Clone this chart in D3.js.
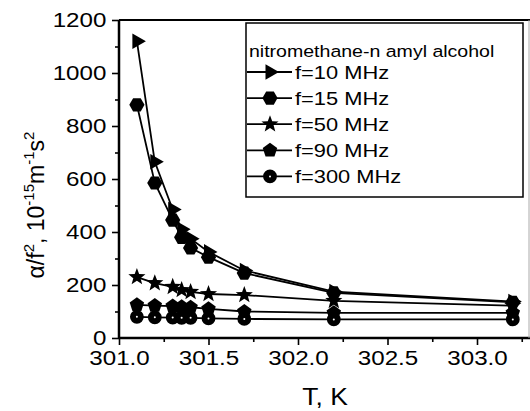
<!DOCTYPE html>
<html>
<head>
<meta charset="utf-8">
<script src="https://cdn.jsdelivr.net/npm/d3@7"></script>
<style>
  body { margin: 0; background: #fff; }
  svg { display: block; font-family: "Liberation Sans", Arial, sans-serif; }
</style>
</head>
<body>
<svg id="chart" width="530" height="411"></svg>
<script>
// temperatures, K
var temps = [301.1, 301.2, 301.3, 301.35, 301.4, 301.5, 301.7, 302.2, 303.2];
// alpha/f^2 for each frequency, 10^-15 m^-1 s^2
var f10  = [1120, 665, 485, 410, 375, 325, 255, 175, 138];
var f15  = [880, 585, 445, 380, 340, 305, 245, 170, 135];
var f50  = [230, 207, 193, 181, 174, 166, 162, 140, 122];
var f90  = [125, 122, 120, 118, 116, 110, 100, 95, 95];
var f300 = [80, 78, 77, 76, 76, 74, 72, 70, 70];
var seriesNames = ["f=10 MHz", "f=15 MHz", "f=50 MHz", "f=90 MHz", "f=300 MHz"];
var legendTitle = "nitromethane-n amyl alcohol";
var xTicks = [301.0, 301.5, 302.0, 302.5, 303.0];
var yTicks = [0, 200, 400, 600, 800, 1000, 1200];

var series = [
    { name: seriesNames[0], values: f10,  shape: "tri" }
  , { name: seriesNames[1], values: f15,  shape: "hex" }
  , { name: seriesNames[2], values: f50,  shape: "star" }
  , { name: seriesNames[3], values: f90,  shape: "pent" }
  , { name: seriesNames[4], values: f300, shape: "circ" }
];

var svg = d3.select("#chart")
  , pLeft = 119, pRight = 530.7, pTop = 20, pBottom = 338
  , x = d3.scaleLinear().domain([301, 303.3]).range([pLeft, pRight])
  , y = d3.scaleLinear().domain([0, 1200]).range([pBottom, pTop])
  , stretch = "scale(1.15,1)"
;

// polygon path helper, centred at 0,0
function poly(n, r, rot) {
    var pts = d3.range(n).map(function(i) {
        var a = rot + i * 2 * Math.PI / n;
        return [r * Math.cos(a), r * Math.sin(a)];
    });
    return "M" + pts.join("L") + "Z";
}
function star(r) {
    var pts = d3.range(10).map(function(i) {
        var rr = i % 2 ? r * 0.42 : r
          , a = -Math.PI / 2 + i * Math.PI / 5;
        return [rr * Math.cos(a), rr * Math.sin(a)];
    });
    return "M" + pts.join("L") + "Z";
}
var shapes = {
    tri:  poly(3, 9, 0)
  , hex:  poly(6, 7.6, 0)
  , star: star(9)
  , pent: poly(5, 7.6, -Math.PI / 2)
  , circ: d3.symbol(d3.symbolCircle, 150)()
};

function drawMarker(g, shape) {
    g.append("path").attr("d", shapes[shape]).attr("fill", "#000");
    if (shape === "circ")
        g.append("circle").attr("r", 1).attr("fill", "#fff");
}

// minor ticks
var xMinor = d3.axisBottom(x).tickValues(d3.range(301.25, 303.3, 0.5)).tickSize(4).tickFormat("");
var yMinor = d3.axisLeft(y).tickValues(d3.range(100, 1200, 200)).tickSize(4).tickFormat("");
svg.append("g").attr("transform", "translate(0," + pBottom + ")").call(xMinor);
svg.append("g").attr("transform", "translate(" + pLeft + ",0)").call(yMinor);

var xAxis = svg.append("g")
    .attr("transform", "translate(0," + pBottom + ")")
    .call(d3.axisBottom(x).tickValues(xTicks).tickSize(7).tickPadding(4)
        .tickFormat(d3.format(".1f")));
var yAxis = svg.append("g")
    .attr("transform", "translate(" + pLeft + ",0)")
    .call(d3.axisLeft(y).tickValues(yTicks).tickSize(7).tickPadding(4)
        .tickFormat(d3.format("d")));

svg.selectAll(".domain").remove();
svg.selectAll(".tick line").attr("stroke", "#000").attr("stroke-width", 1.6);
svg.selectAll(".tick text")
    .attr("fill", "#000")
    .style("font-size", "21px")
    .attr("transform", stretch);
xAxis.selectAll(".tick text").attr("dy", "0.78em");

// frame
svg.append("line").attr("x1", pLeft).attr("x2", 530).attr("y1", pBottom).attr("y2", pBottom)
    .attr("stroke", "#000").attr("stroke-width", 2.5);
svg.append("line").attr("x1", pLeft).attr("x2", pLeft).attr("y1", pTop).attr("y2", pBottom)
    .attr("stroke", "#000").attr("stroke-width", 2.5);
svg.append("line").attr("x1", pLeft).attr("x2", 530).attr("y1", pTop).attr("y2", pTop)
    .attr("stroke", "#000").attr("stroke-width", 2);
svg.append("line").attr("x1", 529).attr("x2", 529).attr("y1", pTop).attr("y2", pBottom)
    .attr("stroke", "#aaa").attr("stroke-width", 1);

// series
var line = d3.line()
    .x(function(d) { return x(d[0]); })
    .y(function(d) { return y(d[1]); });

series.forEach(function(s) {
    var pts = temps.map(function(t, i) { return [t, s.values[i]]; });
    svg.append("path")
        .datum(pts)
        .attr("d", line)
        .attr("fill", "none")
        .attr("stroke", "#000")
        .attr("stroke-width", 1.8);
    pts.forEach(function(p) {
        drawMarker(svg.append("g")
            .attr("transform", "translate(" + x(p[0]) + "," + y(p[1]) + ")"), s.shape);
    });
});

// legend
var legend = svg.append("g");
legend.append("rect")
    .attr("x", 246).attr("y", 23).attr("width", 277).attr("height", 174)
    .attr("fill", "#fff").attr("stroke", "#000").attr("stroke-width", 1.5);
legend.append("text")
    .attr("transform", "translate(249,57) " + stretch)
    .style("font-size", "17px")
    .text(legendTitle);
series.forEach(function(s, i) {
    var cy = 72 + i * 26.1
      , g = legend.append("g");
    g.append("line").attr("x1", 247).attr("x2", 292).attr("y1", cy).attr("y2", cy)
        .attr("stroke", "#000").attr("stroke-width", 1.8);
    drawMarker(g.append("g").attr("transform", "translate(270," + cy + ")"), s.shape);
    g.append("text")
        .attr("transform", "translate(295," + (cy + 7) + ") " + stretch)
        .style("font-size", "19px")
        .text(s.name);
});

// axis titles
svg.append("text")
    .attr("transform", "translate(325,405) " + stretch)
    .attr("text-anchor", "middle")
    .style("font-size", "23px")
    .text("T, K");

var yl = svg.append("text")
    .attr("transform", "translate(44,205) rotate(-90)")
    .attr("text-anchor", "middle")
    .style("font-size", "23px");
yl.append("tspan").text("\u03B1/f");
yl.append("tspan").attr("dy", -10).style("font-size", "15px").text("2");
yl.append("tspan").attr("dy", 10).text(", 10");
yl.append("tspan").attr("dy", -10).style("font-size", "15px").text("-15");
yl.append("tspan").attr("dy", 10).text("m");
yl.append("tspan").attr("dy", -10).style("font-size", "15px").text("-1");
yl.append("tspan").attr("dy", 10).text("s");
yl.append("tspan").attr("dy", -10).style("font-size", "15px").text("2");
</script>
</body>
</html>
